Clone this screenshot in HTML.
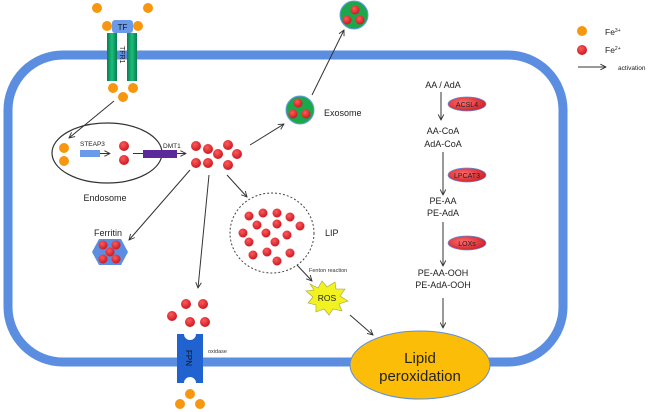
<!DOCTYPE html>
<html><head><meta charset="utf-8"><style>
html,body{margin:0;padding:0;background:#fff;}
svg{display:block;font-family:"Liberation Sans",Arial,sans-serif;}
</style></head><body>
<svg width="659" height="412" viewBox="0 0 659 412" xmlns="http://www.w3.org/2000/svg">
<defs>
<radialGradient id="rd" cx="0.4" cy="0.35" r="0.7"><stop offset="0" stop-color="#ff5a5a"/><stop offset="1" stop-color="#c8141e"/></radialGradient>
<linearGradient id="gr" x1="0" x2="1"><stop offset="0" stop-color="#0d7a52"/><stop offset="0.5" stop-color="#19c07a"/><stop offset="1" stop-color="#0d7a52"/></linearGradient>
<radialGradient id="en" cx="0.4" cy="0.4" r="0.7"><stop offset="0" stop-color="#ff6a6a"/><stop offset="1" stop-color="#c81a22"/></radialGradient>
<marker id="a" viewBox="0 0 10 10" refX="9" refY="5" markerWidth="7" markerHeight="7" orient="auto"><path d="M1,1 L9,5 L1,9" fill="none" stroke="#333" stroke-width="1.3"/></marker>
</defs>
<!-- membrane -->
<rect x="8" y="55" width="555" height="307" rx="55" ry="55" fill="none" stroke="#5b8ee0" stroke-width="9"/>
<!-- TFR1 -->
<rect x="107" y="33" width="10" height="48" fill="url(#gr)"/>
<rect x="127" y="33" width="10" height="48" fill="url(#gr)"/>
<text x="120" y="46" font-size="7" fill="#222" transform="rotate(90 120 46)">TFR1</text>
<rect x="112" y="20" width="21" height="13" rx="3" fill="#6a9ae8"/>
<text x="122.5" y="30" font-size="8" text-anchor="middle" fill="#111">TF</text>
<g fill="#f7960f">
<circle cx="97" cy="8" r="5"/><circle cx="148" cy="8" r="5"/><circle cx="107" cy="26" r="5"/><circle cx="138" cy="26" r="5"/>
<circle cx="113" cy="88" r="5"/><circle cx="133" cy="88" r="5"/><circle cx="123" cy="97" r="5"/>
<circle cx="64" cy="148" r="5"/><circle cx="64" cy="161" r="5"/>
<circle cx="190" cy="394" r="5"/><circle cx="180" cy="404" r="5"/><circle cx="200" cy="404" r="5"/>
<circle cx="582" cy="31" r="5"/>
</g>
<!-- endosome -->
<ellipse cx="107" cy="153" rx="55" ry="30" fill="none" stroke="#333" stroke-width="1.2"/>
<line x1="114" y1="101" x2="69" y2="138" stroke="#333" stroke-width="1" marker-end="url(#a)"/>
<rect x="80" y="150" width="20" height="7" fill="#6a9ae8"/>
<line x1="100" y1="153.5" x2="110" y2="153.5" stroke="#333" marker-end="url(#a)"/>
<text x="80" y="146" font-size="6.5" fill="#222">STEAP3</text>
<line x1="133" y1="153.5" x2="143" y2="153.5" stroke="#333"/>
<rect x="143" y="150" width="34" height="8" fill="#5a2a9a"/>
<line x1="177" y1="153.5" x2="186" y2="153.5" stroke="#333" marker-end="url(#a)"/>
<text x="163" y="148" font-size="6.5" fill="#222">DMT1</text>
<text x="105" y="201" font-size="9" text-anchor="middle" fill="#222">Endosome</text>
<g fill="url(#rd)">
<circle cx="124" cy="146" r="5"/><circle cx="124" cy="160" r="5"/>
<circle cx="196" cy="146" r="5"/><circle cx="208" cy="149" r="5"/><circle cx="228" cy="145" r="5"/><circle cx="218" cy="154" r="5"/><circle cx="237" cy="154" r="5"/><circle cx="196" cy="163" r="5"/><circle cx="208" cy="163" r="5"/><circle cx="228" cy="165" r="5"/>
<circle cx="186" cy="304" r="5"/><circle cx="203" cy="304" r="5"/><circle cx="172" cy="316" r="5"/><circle cx="190" cy="322" r="5"/><circle cx="205" cy="322" r="5"/>
<circle cx="582" cy="50" r="5"/>
</g>
<!-- exosomes -->
<line x1="250" y1="145" x2="284" y2="124" stroke="#333" marker-end="url(#a)"/>
<line x1="312" y1="95" x2="344" y2="30" stroke="#333" marker-end="url(#a)"/>
<circle cx="300" cy="110" r="14" fill="#1aa84a" stroke="#6a9ae8"/>
<circle cx="354" cy="15" r="14" fill="#1aa84a" stroke="#6a9ae8"/>
<g fill="url(#rd)">
<circle cx="298" cy="103" r="4.5"/><circle cx="293" cy="114" r="4.5"/><circle cx="306" cy="114" r="4.5"/>
<circle cx="355" cy="10" r="4.5"/><circle cx="347" cy="20" r="4.5"/><circle cx="360" cy="20" r="4.5"/>
</g>
<text x="324" y="116" font-size="9" fill="#222">Exosome</text>
<!-- ferritin -->
<line x1="190" y1="170" x2="129" y2="240" stroke="#333" marker-end="url(#a)"/>
<text x="108" y="236" font-size="9" text-anchor="middle" fill="#222">Ferritin</text>
<polygon points="92,252 99,239 121,239 128,252 121,265 99,265" fill="#5b8ee0"/>
<g fill="url(#rd)"><circle cx="103" cy="245" r="4.5"/><circle cx="116" cy="245" r="4.5"/><circle cx="110" cy="252" r="4.5"/><circle cx="103" cy="259" r="4.5"/><circle cx="116" cy="259" r="4.5"/></g>
<!-- FPN -->
<line x1="209" y1="175" x2="198" y2="288" stroke="#333" marker-end="url(#a)"/>
<path d="M177,334 H184 A6,6 0 0 0 196,334 H203 V383 H196 A6,6 0 0 0 184,383 H177 Z" fill="#2062d0"/>
<text x="186" y="350" font-size="8" fill="#111" transform="rotate(90 186 350)">FPN</text>
<text x="208" y="353" font-size="5.5" fill="#333">oxidase</text>
<!-- LIP -->
<line x1="227" y1="175" x2="247" y2="197" stroke="#333" marker-end="url(#a)"/>
<ellipse cx="272" cy="233" rx="42" ry="40" fill="none" stroke="#444" stroke-dasharray="2,2"/>
<g fill="url(#rd)">
<circle cx="249" cy="216" r="4.5"/><circle cx="263" cy="213" r="4.5"/><circle cx="277" cy="213" r="4.5"/><circle cx="290" cy="217" r="4.5"/><circle cx="257" cy="225" r="4.5"/><circle cx="277" cy="224" r="4.5"/><circle cx="300" cy="226" r="4.5"/><circle cx="243" cy="233" r="4.5"/><circle cx="266" cy="233" r="4.5"/><circle cx="287" cy="235" r="4.5"/><circle cx="249" cy="242" r="4.5"/><circle cx="275" cy="242" r="4.5"/><circle cx="253" cy="255" r="4.5"/><circle cx="267" cy="252" r="4.5"/><circle cx="277" cy="261" r="4.5"/><circle cx="290" cy="253" r="4.5"/>
</g>
<text x="325" y="236" font-size="9" fill="#222">LIP</text>
<text x="309" y="272" font-size="5.5" fill="#333">Fenton reaction</text>
<line x1="297" y1="265" x2="312" y2="281" stroke="#333" marker-end="url(#a)"/>
<polygon points="310,284 318,288 322,281 327,287 335,282 336,289 345,289 340,296 348,301 339,304 342,311 333,309 329,315 324,309 316,312 316,305 308,303 313,297 306,291 314,290" fill="#f2f220" stroke="#a0a040" stroke-width="0.6"/>
<text x="327" y="301" font-size="8.5" text-anchor="middle" fill="#222">ROS</text>
<line x1="350" y1="315" x2="373" y2="335" stroke="#333" marker-end="url(#a)"/>
<!-- lipid -->
<ellipse cx="420" cy="365" rx="70" ry="34" fill="#fbbd08" stroke="#5b8ee0" stroke-width="1"/>
<text x="420" y="363" font-size="15" text-anchor="middle" fill="#222">Lipid</text>
<text x="420" y="381" font-size="15" text-anchor="middle" fill="#222">peroxidation</text>
<!-- right pathway -->
<g font-size="9" fill="#222" text-anchor="middle">
<text x="443" y="88">AA / AdA</text>
<text x="443" y="134">AA-CoA</text>
<text x="443" y="147">AdA-CoA</text>
<text x="443" y="204">PE-AA</text>
<text x="443" y="216">PE-AdA</text>
<text x="443" y="276">PE-AA-OOH</text>
<text x="443" y="288">PE-AdA-OOH</text>
</g>
<g stroke="#333">
<line x1="441" y1="92" x2="441" y2="120" marker-end="url(#a)"/>
<line x1="443" y1="152" x2="443" y2="195" marker-end="url(#a)"/>
<line x1="443" y1="222" x2="443" y2="266" marker-end="url(#a)"/>
<line x1="443" y1="298" x2="443" y2="328" marker-end="url(#a)"/>
</g>
<g fill="url(#en)" stroke="#5b8ee0" stroke-width="0.7">
<ellipse cx="467" cy="104" rx="19" ry="7"/><ellipse cx="467" cy="175" rx="19" ry="7"/><ellipse cx="467" cy="243" rx="19" ry="7"/>
</g>
<g font-size="7" fill="#222" text-anchor="middle">
<text x="467" y="107">ACSL4</text><text x="467" y="178">LPCAT3</text><text x="467" y="246">LOXs</text>
</g>
<!-- legend -->
<text x="605" y="35" font-size="8.5" fill="#222">Fe<tspan font-size="5" dy="-3">3+</tspan></text>
<text x="605" y="53" font-size="8.5" fill="#222">Fe<tspan font-size="5" dy="-3">2+</tspan></text>
<line x1="578" y1="67" x2="606" y2="67" stroke="#333" marker-end="url(#a)"/>
<text x="618" y="70" font-size="6.5" fill="#222">activation</text>
</svg>
</body></html>
